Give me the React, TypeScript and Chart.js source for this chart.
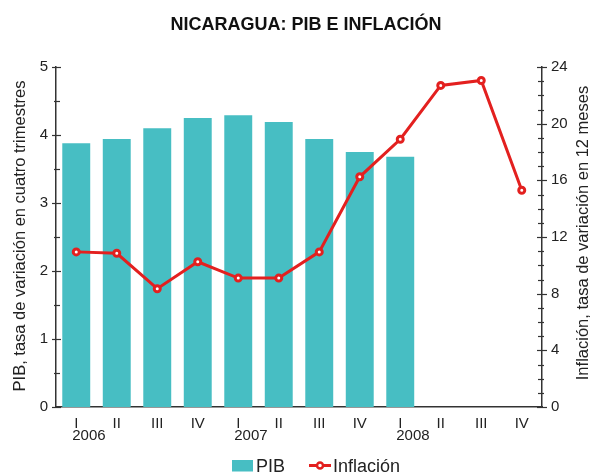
import React, { useEffect, useRef } from "react";
import { Chart, registerables } from "chart.js";

Chart.register(...registerables);

const quarterLabels: string[] = ["I", "II", "III", "IV", "I", "II", "III", "IV", "I", "II", "III", "IV"];
const yearLabels: string[] = ["2006", "", "", "", "2007", "", "", "", "2008", "", "", ""];
const pibValues: (number | null)[] = [3.88, 3.94, 4.1, 4.25, 4.29, 4.19, 3.94, 3.75, 3.68, null, null, null];
const inflacionValues: number[] = [10.95, 10.85, 8.35, 10.25, 9.1, 9.1, 10.95, 16.25, 18.9, 22.7, 23.05, 15.3];
const pibTicks: number[] = [0, 1, 2, 3, 4, 5];
const inflacionTicks: number[] = [0, 4, 8, 12, 16, 20, 24];
const titleText = "NICARAGUA: PIB E INFLACIÓN";
const leftTitle = "PIB, tasa de variación en cuatro trimestres";
const rightTitle = "Inflación, tasa de variación en 12 meses";

const TEAL = "#47BEC3";
const RED = "#E3201F";
const AXIS = "#333333";
const TEXT = "#222222";
const FONT = "'Liberation Sans', Arial, sans-serif";

const extrasPlugin = {
  id: "extras",
  afterDraw(chart: any) {
    const ctx = chart.ctx as CanvasRenderingContext2D;
    const x = chart.scales.x;
    const y = chart.scales.y;
    const y1 = chart.scales.y1;
    ctx.save();
    ctx.strokeStyle = AXIS;
    ctx.lineWidth = 1.2;
    const hline = (x0: number, x1: number, py: number) => {
      ctx.beginPath(); ctx.moveTo(x0, py); ctx.lineTo(x1, py); ctx.stroke();
    };
    // left ticks
    const yl = y.right;
    for (let i = 0; i <= 10; i++) {
      const v = i / 2;
      const py = Math.round(y.getPixelForValue(v)) + 0.5;
      if (i % 2 === 0) hline(yl - 4, yl + 5, py);
      else hline(yl - 2, yl + 4, py);
    }
    // right ticks
    const yr = y1.left;
    for (let v = 0; v <= 24; v++) {
      const py = Math.round(y1.getPixelForValue(v)) + 0.5;
      if (v % 4 === 0) hline(yr - 5, yr + 5, py);
      else hline(yr - 4, yr + 2, py);
    }
    ctx.fillStyle = TEXT;
    // year labels under quarters
    ctx.font = `15px ${FONT}`;
    ctx.textAlign = "left";
    ctx.textBaseline = "alphabetic";
    yearLabels.forEach((lab, i) => {
      if (!lab) return;
      const px = x.getPixelForValue(i);
      ctx.fillText(lab, px - 4, 440);
    });
    // title
    ctx.font = `bold 18px ${FONT}`;
    ctx.textAlign = "center";
    ctx.fillStyle = "#111";
    ctx.fillText(titleText, 306, 30);
    // axis titles
    ctx.fillStyle = TEXT;
    ctx.font = `16.5px ${FONT}`;
    ctx.textAlign = "center";
    ctx.textBaseline = "middle";
    ctx.save();
    ctx.translate(20, 236);
    ctx.rotate(-Math.PI / 2);
    ctx.fillText(leftTitle, 0, 0);
    ctx.restore();
    ctx.save();
    ctx.translate(583, 233);
    ctx.rotate(-Math.PI / 2);
    ctx.fillText(rightTitle, 0, 0);
    ctx.restore();

    // legend
    const ds0 = chart.data.datasets[0];
    const ds1 = chart.data.datasets[1];
    const ly = 465.5;
    let lx = 232;
    ctx.fillStyle = ds0.backgroundColor;
    ctx.fillRect(lx, ly - 5.5, 21, 11.5);
    lx += 24;
    ctx.font = `18px ${FONT}`;
    ctx.fillStyle = TEXT;
    ctx.textAlign = "left";
    ctx.textBaseline = "alphabetic";
    ctx.fillText(ds0.label, lx, 471.5);
    lx += ctx.measureText(ds0.label).width + 24;
    ctx.strokeStyle = ds1.borderColor;
    ctx.lineWidth = 3;
    ctx.beginPath(); ctx.moveTo(lx, ly); ctx.lineTo(lx + 22, ly); ctx.stroke();
    ctx.fillStyle = "#fff";
    ctx.lineWidth = 2.5;
    ctx.beginPath(); ctx.arc(lx + 11, ly, 3, 0, Math.PI * 2); ctx.fill(); ctx.stroke();
    lx += 24;
    ctx.fillStyle = TEXT;
    ctx.fillText(ds1.label, lx, 471.5);
    ctx.restore();
  },
};

export default function App() {
  const ref = useRef<HTMLCanvasElement | null>(null);
  useEffect(() => {
    document.body.style.margin = "0";
    const chart = new Chart(ref.current!, {
      type: "bar",
      data: {
        labels: quarterLabels,
        datasets: [
          {
            type: "bar",
            label: "PIB",
            data: pibValues,
            backgroundColor: TEAL,
            yAxisID: "y",
            order: 1,
            barPercentage: 0.69,
            categoryPercentage: 1,
          } as any,
          {
            type: "line",
            label: "Inflación",
            data: inflacionValues,
            borderColor: RED,
            borderWidth: 3,
            pointRadius: 3,
            pointBorderWidth: 3,
            pointBackgroundColor: "#fff",
            pointBorderColor: RED,
            pointStyle: "circle",
            yAxisID: "y1",
            order: 0,
          } as any,
        ],
      },
      options: {
        animation: false,
        responsive: false,
        layout: { padding: { top: 67, bottom: 28, left: 0, right: 0 } },
        plugins: {
          tooltip: { enabled: false },
          legend: { display: false },
          title: { display: false },
        },
        scales: {
          x: {
            offset: true,
            grid: { display: false, drawTicks: false },
            border: { display: true, color: AXIS, width: 1.5 },
            ticks: {
              color: TEXT,
              font: { family: FONT, size: 15 },
              padding: 8,
              maxRotation: 0,
              autoSkip: false,
            },
            afterFit: (s: any) => { s.height = 38; },
          },
          y: {
            position: "left",
            min: 0,
            max: 5,
            afterBuildTicks: (s: any) => { s.ticks = pibTicks.map((v) => ({ value: v })); },
            ticks: {
              color: TEXT,
              font: { family: FONT, size: 15 },
              padding: 8,
            },
            grid: { display: false, drawTicks: false },
            border: { display: true, color: AXIS, width: 1.5 },
            afterFit: (s: any) => { s.width = 56; },
          },
          y1: {
            position: "right",
            min: 0,
            max: 24,
            afterBuildTicks: (s: any) => { s.ticks = inflacionTicks.map((v) => ({ value: v })); },
            ticks: {
              color: TEXT,
              font: { family: FONT, size: 15 },
              padding: 9,
            },
            grid: { display: false, drawTicks: false },
            border: { display: true, color: AXIS, width: 1.5 },
            afterFit: (s: any) => { s.width = 48; },
          },
        },
      },
      plugins: [extrasPlugin],
    });
    return () => chart.destroy();
  }, []);
  return (
    <div style={{ width: 590, height: 473 }}>
      <canvas ref={ref} width={590} height={473} style={{ display: "block" }} />
    </div>
  );
}
